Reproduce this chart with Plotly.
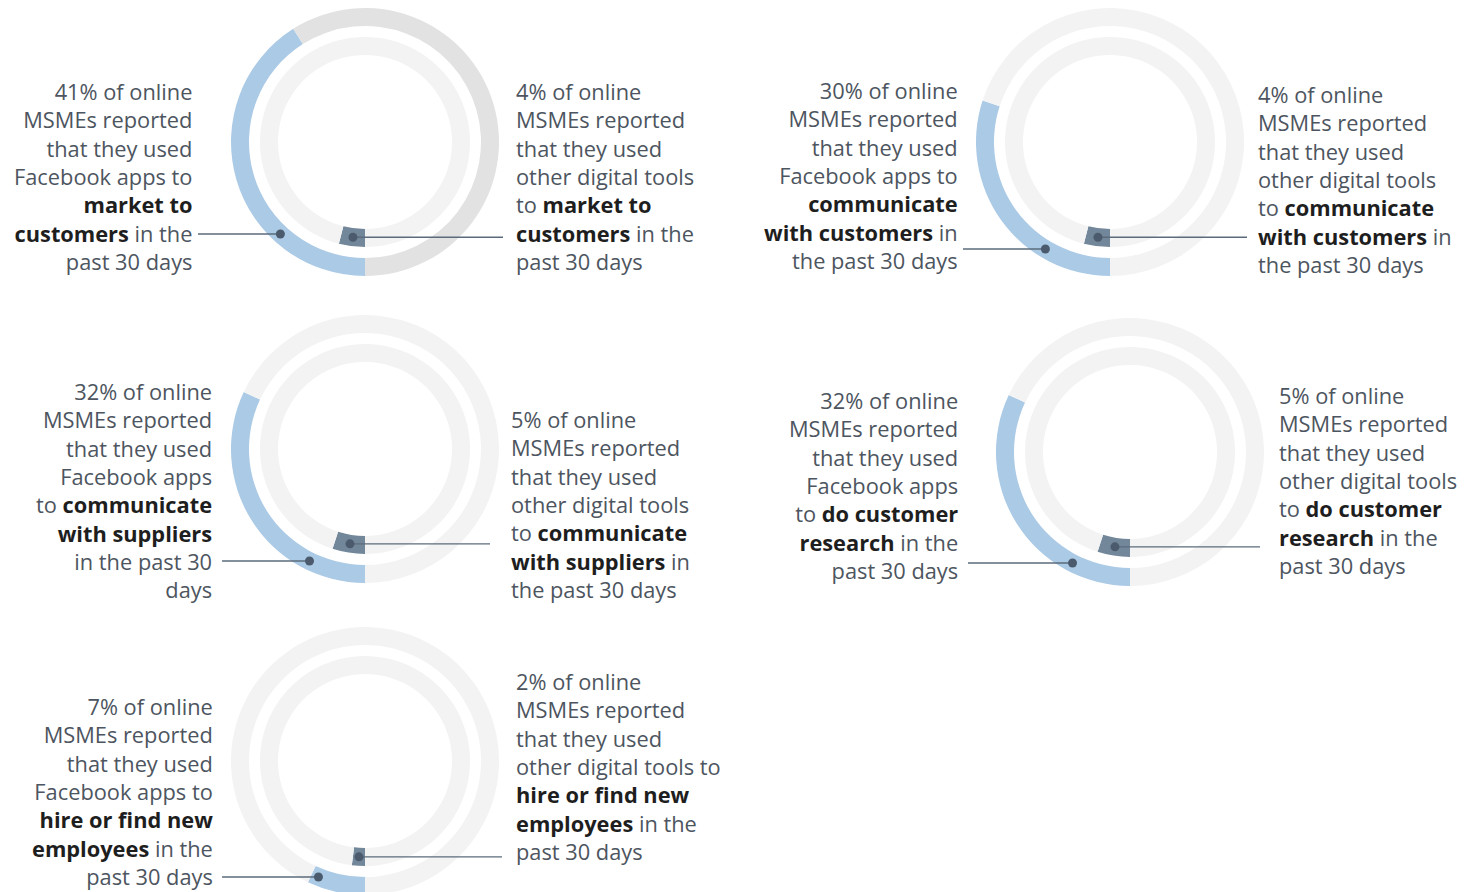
import math
import plotly.graph_objects as go

# ---------------- data ----------------
categories = ["market to customers", "communicate with customers",
              "communicate with suppliers", "do customer research",
              "hire or find new employees"]
facebook_pct = [41, 30, 32, 32, 7]
other_pct = [4, 4, 5, 5, 2]

left_texts = [
    ["41% of online", "MSMEs reported", "that they used", "Facebook apps to",
     "<b>market to</b>", "<b>customers</b> in the", "past 30 days"],
    ["30% of online", "MSMEs reported", "that they used", "Facebook apps to",
     "<b>communicate</b>", "<b>with customers</b> in", "the past 30 days"],
    ["32% of online", "MSMEs reported", "that they used", "Facebook apps",
     "to <b>communicate</b>", "<b>with suppliers</b>", "in the past 30", "days"],
    ["32% of online", "MSMEs reported", "that they used", "Facebook apps",
     "to <b>do customer</b>", "<b>research</b> in the", "past 30 days"],
    ["7% of online", "MSMEs reported", "that they used", "Facebook apps to",
     "<b>hire or find new</b>", "<b>employees</b> in the", "past 30 days"],
]
right_texts = [
    ["4% of online", "MSMEs reported", "that they used", "other digital tools",
     "to <b>market to</b>", "<b>customers</b> in the", "past 30 days"],
    ["4% of online", "MSMEs reported", "that they used", "other digital tools",
     "to <b>communicate</b>", "<b>with customers</b> in", "the past 30 days"],
    ["5% of online", "MSMEs reported", "that they used", "other digital tools",
     "to <b>communicate</b>", "<b>with suppliers</b> in", "the past 30 days"],
    ["5% of online", "MSMEs reported", "that they used", "other digital tools",
     "to <b>do customer</b>", "<b>research</b> in the", "past 30 days"],
    ["2% of online", "MSMEs reported", "that they used", "other digital tools to",
     "<b>hire or find new</b>", "<b>employees</b> in the", "past 30 days"],
]

# ---------------- layout / style ----------------
W, H = 1478, 896
centers = [(365, 142), (1110, 142), (365, 449), (1130, 452), (365, 761)]
R_OUT, R_OUT_IN = 134, 116
R_IN, R_IN_IN = 105, 87
outer_bg = ["#e2e2e2", "#f3f3f3", "#f3f3f3", "#f3f3f3", "#f3f3f3"]
left_text_pos = [(194, 176), (960, 175), (214, 490), (960, 485), (215, 791)]
right_text_pos = [(514, 176), (1256, 179), (509, 504), (1277, 480), (514, 766)]
outer_line_y = [234, 249, 561, 563, 877]
left_line_end = [198, 963, 222, 968, 222]
right_line_end = [503, 1247, 490, 1260, 502]

BLUE = "#abcae6"
SLATE = "#72879a"
INNER_BG = "#f3f3f3"
DOT = "#4b5b6d"
LINE = "#5b6b7b"
TXT = "#4d5560"
BOLD = "#1e1e1e"
FONT = "Open Sans"
FS = 21.8

fig = go.Figure()


def dom(cx, cy, r):
    return dict(x=[(cx - r) / W, (cx + r) / W],
                y=[1 - (cy + r) / H, 1 - (cy - r) / H])


def bold_dark(s):
    return s.replace("<b>", f"<span style='color:{BOLD}'><b>").replace("</b>", "</b></span>")


shapes = []
annotations = []
for i in range(len(categories)):
    cx, cy = centers[i]
    fb, ot = facebook_pct[i], other_pct[i]
    fig.add_trace(go.Pie(values=[fb, 100 - fb], labels=["Facebook apps", "Other"],
                         domain=dom(cx, cy, R_OUT), hole=R_OUT_IN / R_OUT,
                         sort=False, direction="clockwise", rotation=180,
                         marker=dict(colors=[BLUE, outer_bg[i]], line=dict(width=0)),
                         textinfo="none", hoverinfo="skip", showlegend=False))
    fig.add_trace(go.Pie(values=[ot, 100 - ot], labels=["Other digital tools", "Other"],
                         domain=dom(cx, cy, R_IN), hole=R_IN_IN / R_IN,
                         sort=False, direction="clockwise", rotation=180,
                         marker=dict(colors=[SLATE, INNER_BG], line=dict(width=0)),
                         textinfo="none", hoverinfo="skip", showlegend=False))

    # outer dot: on ring mid radius at the label line's height
    rm = (R_OUT + R_OUT_IN) / 2
    ly = outer_line_y[i]
    ox = cx - math.sqrt(max(rm ** 2 - (ly - cy) ** 2, 0))
    # inner dot: middle of the inner arc
    ri = (R_IN + R_IN_IN) / 2
    th = math.radians(ot / 100 / 2 * 360)
    ix = cx - ri * math.sin(th)
    iy = cy + ri * math.cos(th)

    shapes.append(dict(type="line", xref="x", yref="y", x0=left_line_end[i], x1=ox,
                       y0=ly, y1=ly, line=dict(color=LINE, width=1.3), layer="above"))
    shapes.append(dict(type="line", xref="x", yref="y", x0=ix, x1=right_line_end[i],
                       y0=iy, y1=iy, line=dict(color=LINE, width=1.3), layer="above"))
    for (px, py) in [(ox, ly), (ix, iy)]:
        shapes.append(dict(type="circle", xref="x", yref="y", x0=px - 4.5, x1=px + 4.5,
                           y0=py - 4.5, y1=py + 4.5, fillcolor=DOT,
                           line=dict(width=0), layer="above"))

    lx, lyc = left_text_pos[i]
    annotations.append(dict(x=lx, y=lyc, xref="x", yref="y",
                            text=bold_dark("<br>".join(left_texts[i])),
                            xanchor="right", yanchor="middle", align="right",
                            showarrow=False, font=dict(family=FONT, size=FS, color=TXT)))
    rx, ryc = right_text_pos[i]
    annotations.append(dict(x=rx, y=ryc, xref="x", yref="y",
                            text=bold_dark("<br>".join(right_texts[i])),
                            xanchor="left", yanchor="middle", align="left",
                            showarrow=False, font=dict(family=FONT, size=FS, color=TXT)))

fig.update_layout(
    width=W, height=H, margin=dict(l=0, r=0, t=0, b=0),
    paper_bgcolor="white", plot_bgcolor="white",
    xaxis=dict(range=[0, W], visible=False, fixedrange=True, domain=[0, 1]),
    yaxis=dict(range=[H, 0], visible=False, fixedrange=True, domain=[0, 1]),
    shapes=shapes, annotations=annotations, showlegend=False,
)

fig.write_html("out.html", config={"displayModeBar": False},
               post_script="document.body.style.margin='0';"
                           "document.body.style.overflow='hidden';"
                           "document.documentElement.style.overflow='hidden';")
